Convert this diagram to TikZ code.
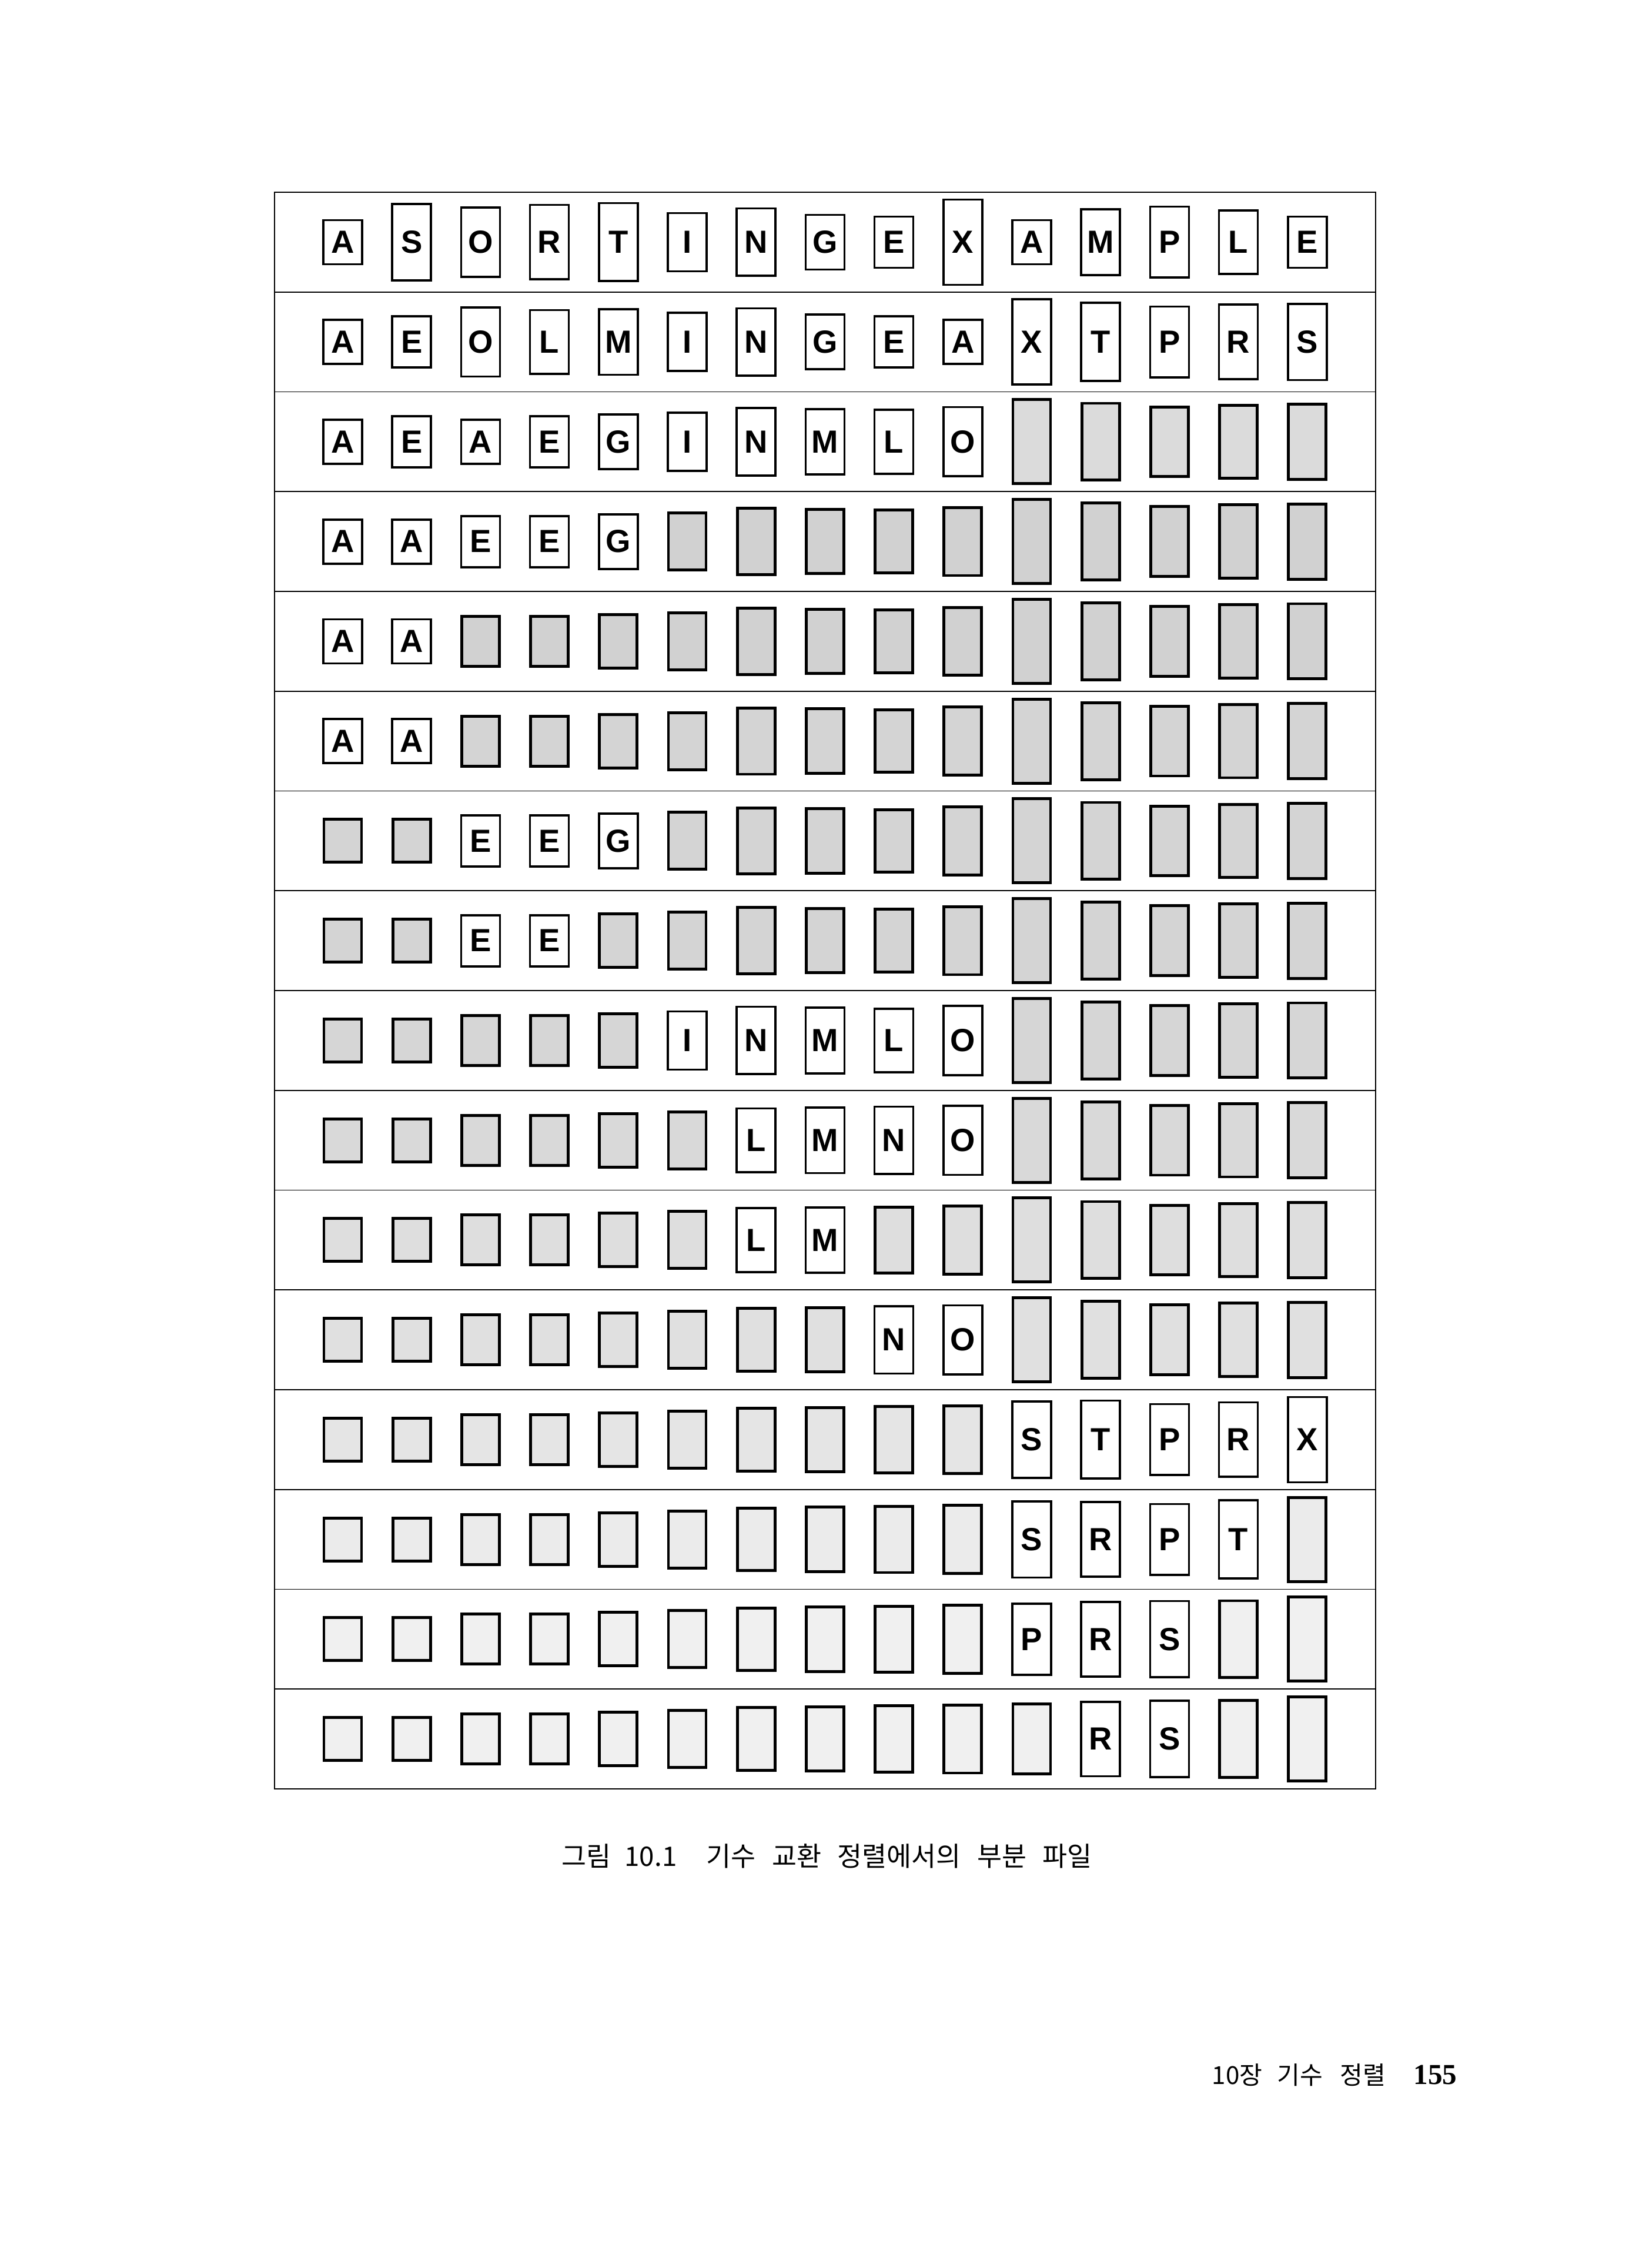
\documentclass[tikz,border=0pt]{standalone}
\usepackage{fontspec}
\setmainfont{Liberation Sans}
\newfontfamily\kofont{Noto Sans CJK KR}
\newfontfamily\numfont{Liberation Serif}
% box height of each key
\def\khA{0.75cm}
\def\khE{0.87cm}
\def\khG{0.93cm}
\def\khI{0.99cm}
\def\khL{1.085cm}
\def\khM{1.115cm}
\def\khN{1.146cm}
\def\khO{1.176cm}
\def\khP{1.206cm}
\def\khR{1.267cm}
\def\khS{1.298cm}
\def\khT{1.328cm}
\def\khX{1.45cm}
\begin{document}
\begin{tikzpicture}[
  keybox/.style={draw, line width=1.05pt, minimum width=0.66cm, inner sep=0pt,
    font=\fontsize{15.5}{15.5}\selectfont\bfseries},
  hidbox/.style={draw, line width=1.4pt, minimum width=0.64cm, inner sep=0pt},
  rule/.style={line width=0.5pt}]
  \useasboundingbox (0,0) rectangle (27.87,-38.58);
  % Outer rectangle
  \draw[rule] (4.67,-3.27) rectangle (23.40,-30.43);
  % Dividing lines
  \foreach \i in {1,...,15}
    \draw[rule] (4.67,{-3.27-1.6975*\i}) -- (23.40,{-3.27-1.6975*\i});
  % Boxes: row / first shown / last shown / shade / keys
  \foreach \r/\lo/\hi/\sh/\keys in {
      1/1/15/0/{A,S,O,R,T,I,N,G,E,X,A,M,P,L,E},
      2/1/15/0/{A,E,O,L,M,I,N,G,E,A,X,T,P,R,S},
      3/1/10/14/{A,E,A,E,G,I,N,M,L,O,X,T,P,R,S},
      4/1/5/18/{A,A,E,E,G,I,N,M,L,O,X,T,P,R,S},
      5/1/2/18/{A,A,E,E,G,I,N,M,L,O,X,T,P,R,S},
      6/1/2/17/{A,A,E,E,G,I,N,M,L,O,X,T,P,R,S},
      7/3/5/17/{A,A,E,E,G,I,N,M,L,O,X,T,P,R,S},
      8/3/4/17/{A,A,E,E,G,I,N,M,L,O,X,T,P,R,S},
      9/6/10/16/{A,A,E,E,G,I,N,M,L,O,X,T,P,R,S},
      10/7/10/15/{A,A,E,E,G,I,L,M,N,O,X,T,P,R,S},
      11/7/8/13/{A,A,E,E,G,I,L,M,N,O,X,T,P,R,S},
      12/9/10/12/{A,A,E,E,G,I,L,M,N,O,X,T,P,R,S},
      13/11/15/10/{A,A,E,E,G,I,L,M,N,O,S,T,P,R,X},
      14/11/14/8/{A,A,E,E,G,I,L,M,N,O,S,R,P,T,X},
      15/11/13/6/{A,A,E,E,G,I,L,M,N,O,P,R,S,T,X},
      16/12/13/6/{A,A,E,E,G,I,L,M,N,O,P,R,S,T,X}} {
    \foreach \k [count=\c] in \keys {
      \pgfmathsetmacro\x{5.83+1.172*(\c-1)}
      \pgfmathsetmacro\y{-4.119-1.6975*(\r-1)}
      \pgfmathtruncatemacro\vis{and(\c>=\lo,\c<=\hi)}
      \ifnum\vis=1
        \node[keybox, minimum height=\csname kh\k\endcsname] (k-\r-\c) at (\x,\y) {\k};
      \else
        \node[hidbox, fill=black!\sh, minimum height=\csname kh\k\endcsname-0.02cm] (k-\r-\c) at (\x,\y) {};
      \fi
    }
  }
  % Caption
  \node[anchor=base west, inner sep=0pt, font=\kofont\fontsize{13}{13}\selectfont] (cap) at (9.55,-31.74)
    {그림\hspace{0.5em}10.1\hspace{1.1em}기수\hspace{0.6em}교환\hspace{0.6em}정렬에서의\hspace{0.6em}부분\hspace{0.6em}파일};
  % Running foot
  \node[anchor=base west, inner sep=0pt, font=\kofont\fontsize{12}{12}\selectfont] (foot) at (20.61,-35.45)
    {10장\hspace{0.6em}기수\hspace{0.7em}정렬};
  \node[anchor=base west, inner sep=0pt, font=\numfont\bfseries\fontsize{14}{14}\selectfont] (pageno) at (24.04,-35.45) {155};
\end{tikzpicture}
\end{document}
